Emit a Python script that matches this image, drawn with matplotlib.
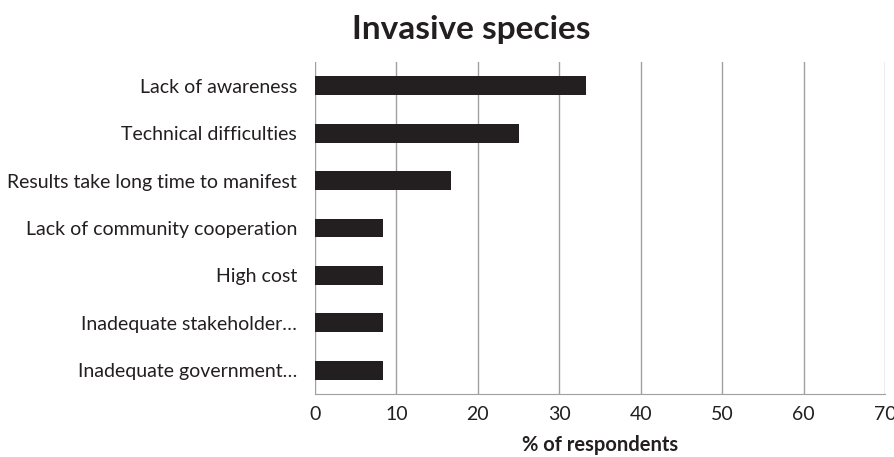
import matplotlib.pyplot as plt

plt.rcParams['font.family'] = ['Lato', 'DejaVu Sans']

categories = ['Lack of awareness', 'Technical difficulties',
              'Results take long time to manifest', 'Lack of community cooperation',
              'High cost', 'Inadequate stakeholder\u2026', 'Inadequate government\u2026']
values = [33.3, 25.0, 16.7, 8.3, 8.3, 8.3, 8.3]
xticks = [0, 10, 20, 30, 40, 50, 60, 70]

fig = plt.figure(figsize=(8.95, 4.57), dpi=100)
ax = fig.add_axes([315 / 895, 1 - 394 / 457, 570 / 895, 332 / 457])

ypos = list(range(len(categories)))
ax.barh(ypos, values, height=0.4, color='#231f20', zorder=3)
ax.set_ylim(len(categories) - 0.5, -0.5)
ax.set_yticks(ypos)
ax.set_yticklabels(categories, fontsize=14, color='#231f20')
ax.set_xlim(0, 70)
ax.set_xticks(xticks)
ax.set_xticklabels([str(t) for t in xticks], fontsize=14, color='#231f20')
ax.tick_params(axis='y', length=0, pad=13)
ax.tick_params(axis='x', length=0, pad=9)
ax.grid(axis='x', color='#a0a0a0', linewidth=1, zorder=0)

for side in ['top', 'right', 'left']:
    ax.spines[side].set_visible(False)
ax.spines['bottom'].set_color('#a0a0a0')

ax.set_xlabel('% of respondents', fontsize=14.5, fontweight='bold', color='#231f20', labelpad=8)
fig.text(471 / 895, 1 - 30 / 457, 'Invasive species', ha='center', va='center',
         fontsize=24, fontweight='bold', color='#231f20')

fig.savefig('out.png', dpi=100)
